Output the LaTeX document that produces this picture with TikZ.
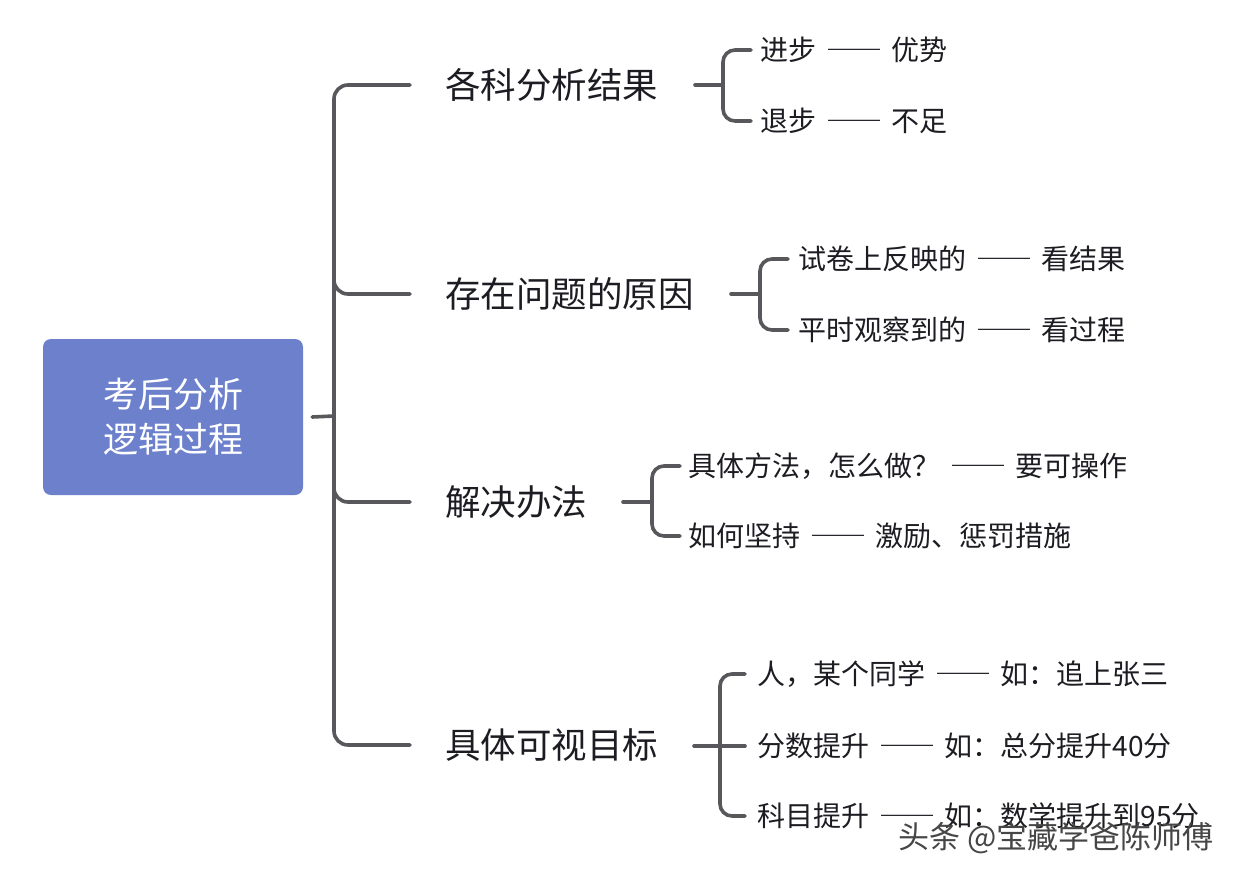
\documentclass[tikz,border=0pt]{standalone}
\usepackage{fontspec}
\setmainfont{Noto Sans CJK SC}
\definecolor{rootblue}{RGB}{108,128,204}
\definecolor{linegray}{RGB}{88,88,92}
\definecolor{txt}{RGB}{28,28,34}
\definecolor{wmgray}{RGB}{70,70,70}
\newcommand{\dd}{\hspace{0.35em}{\addfontfeatures{RawFeature=+fwid}——}\hspace{0.35em}}
\tikzset{
  ln/.style={draw=linegray, line width=3.6pt, rounded corners=14pt, line cap=round},
  lnb/.style={ln, rounded corners=12pt},
  rootbox/.style={fill=rootblue, rounded corners=8pt, minimum width=260pt, minimum height=156pt,
    inner sep=0pt, align=center, text=white, font=\fontsize{35}{45}\selectfont},
  br/.style={anchor=west, inner sep=0pt, font=\fontsize{35.5}{40}\selectfont, text=txt},
  leaf/.style={anchor=west, inner sep=0pt, font=\fontsize{28}{32}\selectfont, text=txt},
  wm/.style={anchor=west, inner sep=0pt, font=\fontsize{31}{34}\selectfont, text=wmgray}
}
\begin{document}
\begin{tikzpicture}[x=1pt,y=-1pt]
\useasboundingbox[fill=white] (0,0) rectangle (1246,880);

% root
\node[rootbox] (root) at (173,417) {考后分析\\逻辑过程};

% main branches
\node[br] (b1) at (445,85) {各科分析结果};
\node[br] (b2) at (445,294) {存在问题的原因};
\node[br] (b3) at (445,502) {解决办法};
\node[br] (b4) at (445,745) {具体可视目标};

% leaves
\node[leaf] (l11) at (760,50) {进步\dd 优势};
\node[leaf] (l12) at (760,121) {退步\dd 不足};
\node[leaf] (l21) at (798,259) {试卷上反映的\dd 看结果};
\node[leaf] (l22) at (798,330) {平时观察到的\dd 看过程};
\node[leaf] (l31) at (688,466) {具体方法，怎么做？\dd 要可操作};
\node[leaf] (l32) at (688,536) {如何坚持\dd 激励、惩罚措施};
\node[leaf] (l41) at (757,674) {人，某个同学\dd 如：追上张三};
\node[leaf] (l42) at (757,746) {分数提升\dd 如：总分提升40分};
\node[leaf] (l43) at (757,816) {科目提升\dd 如：数学提升到95分};

% watermark
\node[wm] (wm) at (898,838) {头条 @宝藏学爸陈师傅};

% trunk
\coordinate (tr) at (334,416);
\draw[ln] ([xshift=9pt]root.east) -- (tr);
\draw[ln] ([xshift=-35pt]b1.west) -| (tr) |- ([xshift=-35pt]b4.west);
\draw[ln] ([yshift=22pt]tr |- b2.west) |- ([xshift=-35pt]b2.west);
\draw[ln] ([yshift=22pt]tr |- b3.west) |- ([xshift=-35pt]b3.west);

% branch 1 bracket
\coordinate (s1) at (695,85);
\coordinate (k1) at (723,85);
\draw[ln] (s1) -- (k1);
\draw[lnb] ([xshift=-9pt]l11.west) -| (k1) |- ([xshift=-9pt]l12.west);

% branch 2 bracket
\coordinate (s2) at (731,294);
\coordinate (k2) at (760,294);
\draw[ln] (s2) -- (k2);
\draw[lnb] ([xshift=-10pt]l21.west) -| (k2) |- ([xshift=-10pt]l22.west);

% branch 3 bracket
\coordinate (s3) at (623,502);
\coordinate (k3) at (652,502);
\draw[ln] (s3) -- (k3);
\draw[lnb] ([xshift=-8pt]l31.west) -| (k3) |- ([xshift=-8pt]l32.west);

% branch 4 bracket
\coordinate (s4) at (694,746);
\coordinate (k4) at (720,746);
\draw[ln] (s4) -- ([xshift=-12pt]l42.west);
\draw[lnb] ([xshift=-12pt]l41.west) -| (k4) |- ([xshift=-12pt]l43.west);
\end{tikzpicture}
\end{document}
